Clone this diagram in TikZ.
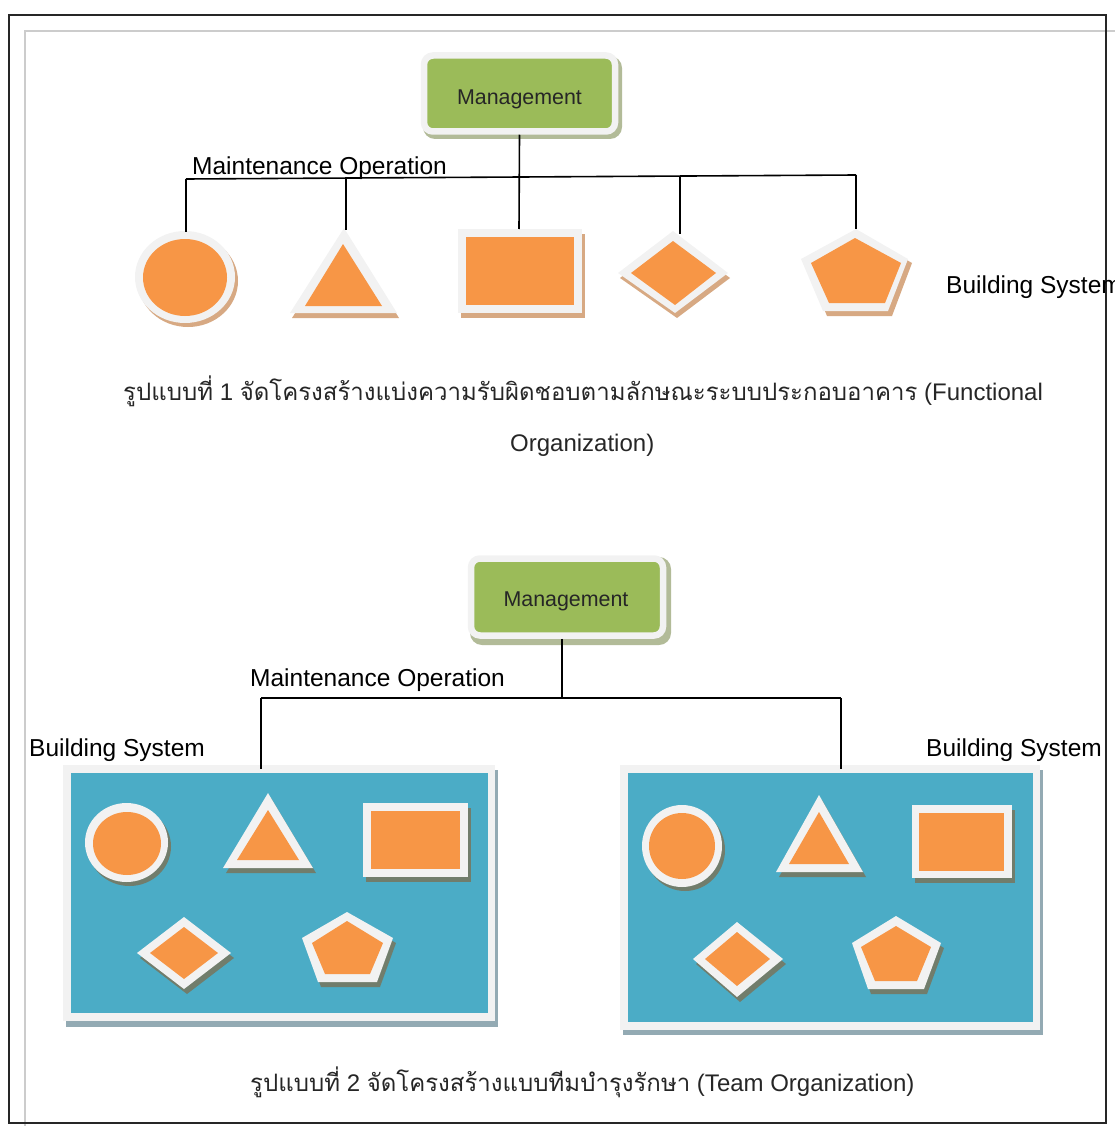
\documentclass[tikz,border=0pt]{standalone}
\usepackage{fontspec}
\setmainfont{Liberation Sans}
\newfontfamily\thaifont[Script=Thai]{Loma}
\definecolor{mgreen}{HTML}{9BBB59}
\definecolor{mgshadow}{HTML}{B2BB98}
\definecolor{frame}{HTML}{F2F2F2}
\definecolor{shorange}{HTML}{F79646}
\definecolor{tan}{HTML}{D7A983}
\definecolor{teamblue}{HTML}{4BACC6}
\definecolor{bluesh}{HTML}{93AAB3}
\definecolor{darksh}{HTML}{717D6C}
\begin{document}
\begin{tikzpicture}[x=1pt,y=-1pt,
  lbl/.style={inner sep=0pt,font=\fontsize{24.5}{29}\selectfont},
  mgtlbl/.style={inner sep=0pt,font=\fontsize{21.4}{26}\selectfont,text=black!85},
  caption/.style={inner sep=0pt,font=\fontsize{24}{29}\selectfont,text=black!85},
  mgtbox/.style={draw=frame,line width=6.5pt,fill=mgreen,rounded corners=9pt,
    minimum width=191pt,minimum height=76pt,inner sep=0pt},
  mgtshadow/.style={fill=mgshadow,rounded corners=12pt},
  conn/.style={line width=1.6pt,black},
  outerframe/.style={fill=frame},
  innerfill/.style={fill=shorange}]
\useasboundingbox (0,0) rectangle (1115,1126);

% page borders
\draw[line width=1.5pt,black!20] (25,31) rectangle (1130,1140);
\draw[line width=2pt,black!85] (9,15) rectangle (1106,1123);

% ---------- Figure 1: functional organization ----------
\fill[mgtshadow] (423,56) rectangle (622,139);
\node[mgtbox] (mgt1) at (519.5,93.5) {};
\node[mgtlbl,anchor=base] (mgt1txt) at (519.5,104.5) {Management};

% circle
\fill[tan] (188,281) ellipse [x radius=50pt,y radius=46pt];
\fill[outerframe] (185,277) ellipse [x radius=50pt,y radius=46pt];
\fill[innerfill] (185,277.5) ellipse [x radius=42pt,y radius=38.5pt];
\coordinate (s1) at (186,232);
% triangle
\fill[tan] (292,318) -- (346,233) -- (399,318) -- cycle;
\fill[outerframe] (290,313) -- (344,228) -- (397,313) -- cycle;
\fill[innerfill] (305,306) -- (343,244) -- (382,306) -- cycle;
\coordinate (s2) at (346,230);
% rectangle
\fill[tan] (461,234) rectangle (585,318);
\fill[outerframe] (458,229) rectangle (582,313);
\fill[innerfill] (466,237) rectangle (574,305);
\coordinate (s3) at (519,229);
% diamond
\fill[tan] (620,278) -- (675,236) -- (730,278) -- (677,318) -- cycle;
\fill[outerframe] (618,273) -- (673,231) -- (728,273) -- (675,313) -- cycle;
\fill[innerfill] (631,273) -- (673,241) -- (716,273) -- (675,305) -- cycle;
\coordinate (s4) at (680,234);
% pentagon
\fill[tan] (805,263) -- (860,233) -- (912,263) -- (892,316) -- (827,316) -- cycle;
\fill[outerframe] (801,259) -- (856,229) -- (908,259) -- (888,311) -- (823,311) -- cycle;
\fill[innerfill] (811,263) -- (855,238) -- (901,263) -- (885,303) -- (829,303) -- cycle;
\coordinate (s5) at (856,229);

% connectors
\coordinate (h1) at (186,179);
\coordinate (h2) at (346,178);
\coordinate (h3) at (519,177);
\coordinate (h4) at (680,176);
\coordinate (h5) at (856,175);
\draw[conn] (h1) -- (h5);
\draw[conn] (mgt1.south) -- (s3);
\draw[conn] (h1) -- (s1);
\draw[conn] (h2) -- (s2);
\draw[conn] (h4) -- (s4);
\draw[conn] (h5) -- (s5);

\node[lbl,anchor=base west] (mo1) at (192,175) {Maintenance Operation};
\node[lbl,anchor=base west] (bs1) at (946,293) {Building System};

\node[caption,anchor=base west] (cap1a) at (123,400)
  {{\thaifont รูปแบบที่} 1 {\thaifont จัดโครงสร้างแบ่งความรับผิดชอบตามลักษณะระบบประกอบอาคาร} (Functional};
\node[caption,anchor=base west] (cap1b) at (510,451) {Organization)};

% ---------- Figure 2: team organization ----------
\fill[mgtshadow] (470,557) rectangle (671,645);
\node[mgtbox,minimum width=192pt,minimum height=77pt] (mgt2) at (567,597) {};
\node[mgtlbl,anchor=base] (mgt2txt) at (566,606) {Management};

\node[lbl,anchor=base west] (mo2) at (250,686) {Maintenance Operation};
\node[lbl,anchor=base west] (bs2) at (29,756) {Building System};
\node[lbl,anchor=base west] (bs3) at (926,756) {Building System};

% team panels
\fill[bluesh] (66,770) rectangle (498,1027);
\fill[frame] (63,765) rectangle (495,1021);
\fill[teamblue] (71,773) rectangle (488,1013);
\fill[bluesh] (623,770) rectangle (1043,1035);
\fill[frame] (620,765) rectangle (1040,1030);
\fill[teamblue] (628,773) rectangle (1033,1022);

\coordinate (t1) at (261,769);
\coordinate (t2) at (841,769);
\coordinate (g1) at (261,698);
\coordinate (g2) at (841,698);
\coordinate (g0) at (562,698);
\draw[conn] (mgt2.south -| g0) -- (g0);
\draw[conn] (g1) -- (g2);
\draw[conn] (g1) -- (t1);
\draw[conn] (g2) -- (t2);

% left panel shapes
\fill[darksh] (129.5,846.5) ellipse [x radius=41.5pt,y radius=39.5pt];
\fill[frame] (126.5,842.5) ellipse [x radius=41.5pt,y radius=39.5pt];
\fill[innerfill] (127,843.5) ellipse [x radius=34pt,y radius=31.5pt];
\fill[darksh] (226,873) -- (271,798) -- (316,873) -- cycle;
\fill[frame] (223,868) -- (268,793) -- (313,868) -- cycle;
\fill[innerfill] (237,860) -- (268,810) -- (299,860) -- cycle;
\fill[darksh] (366,808) rectangle (471,882);
\fill[frame] (363,803) rectangle (468,877);
\fill[innerfill] (371,811) rectangle (460,869);
\fill[darksh] (140,958) -- (187,922) -- (234,958) -- (187,994) -- cycle;
\fill[frame] (137,953) -- (184,917) -- (231,953) -- (184,989) -- cycle;
\fill[innerfill] (150,953) -- (184,927) -- (218,953) -- (184,979) -- cycle;
\fill[darksh] (305,943) -- (350,917) -- (396,943) -- (380,987) -- (321,987) -- cycle;
\fill[frame] (302,938) -- (347,912) -- (393,938) -- (377,982) -- (318,982) -- cycle;
\fill[innerfill] (312,943) -- (347,921) -- (383,943) -- (370,974) -- (325,974) -- cycle;

% right panel shapes
\fill[darksh] (685,850) ellipse [x radius=40pt,y radius=41pt];
\fill[frame] (682,846) ellipse [x radius=40pt,y radius=41pt];
\fill[innerfill] (682,846) ellipse [x radius=33pt,y radius=33pt];
\fill[darksh] (779,877) -- (822,800) -- (866,877) -- cycle;
\fill[frame] (776,872) -- (819,795) -- (863,872) -- cycle;
\fill[innerfill] (789,864) -- (819,812) -- (849,864) -- cycle;
\fill[darksh] (915,810) rectangle (1015,883);
\fill[frame] (912,805) rectangle (1012,878);
\fill[innerfill] (919,813) rectangle (1004,871);
\fill[darksh] (696,964) -- (740,927) -- (786,964) -- (740,1002) -- cycle;
\fill[frame] (693,959) -- (737,922) -- (783,959) -- (737,997) -- cycle;
\fill[innerfill] (705,959) -- (737,932) -- (770,959) -- (737,986) -- cycle;
\fill[darksh] (855,948) -- (899,921) -- (944,948) -- (927,994) -- (871,994) -- cycle;
\fill[frame] (852,943) -- (896,916) -- (941,943) -- (924,989) -- (868,989) -- cycle;
\fill[innerfill] (861,947) -- (896,926) -- (931,947) -- (917,981) -- (875,981) -- cycle;

\node[caption,anchor=base west] (cap2) at (250,1091)
  {{\thaifont รูปแบบที่} 2 {\thaifont จัดโครงสร้างแบบทีมบำรุงรักษา} (Team Organization)};
\end{tikzpicture}
\end{document}
